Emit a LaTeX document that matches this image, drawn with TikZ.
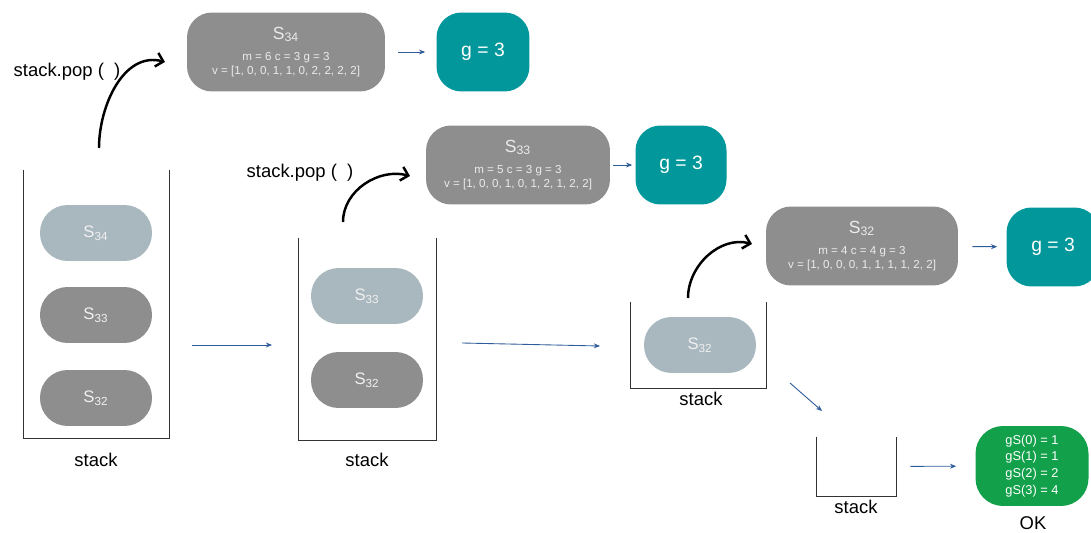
\documentclass[tikz,border=0pt]{standalone}
\usepackage{fontspec}
\setmainfont{Liberation Sans}
\usetikzlibrary{arrows.meta}
\definecolor{boxgray}{HTML}{8E8E8E}
\definecolor{popgray}{HTML}{A9B7BF}
\definecolor{tealbox}{HTML}{02979A}
\definecolor{okgreen}{HTML}{12A04B}
\definecolor{flowblue}{HTML}{2E5C99}
\definecolor{wallgray}{HTML}{333333}

\begin{document}
\begin{tikzpicture}[x=0.02cm,y=0.02cm,
  pill/.style={rectangle,rounded corners=0.55cm,minimum width=2.24cm,minimum height=1.12cm,
    fill=boxgray,text=white!94!black,font=\fontsize{9.5}{11}\selectfont},
  toppill/.style={pill,fill=popgray},
  state/.style={rectangle,rounded corners=0.5cm,minimum height=1.58cm,fill=boxgray,
    text=white!92!black,align=center,font=\fontsize{6.6}{8}\selectfont},
  gbox/.style={rectangle,rounded corners=0.5cm,minimum width=1.86cm,minimum height=1.58cm,
    fill=tealbox,text=white,font=\fontsize{11}{13}\selectfont},
  okbox/.style={rectangle,rounded corners=0.55cm,minimum width=2.26cm,minimum height=1.6cm,
    fill=okgreen,text=white,align=center,font=\fontsize{7.3}{9.6}\selectfont},
  stackbox/.style={rectangle,inner sep=0pt},
  wall/.style={wallgray,line width=0.8pt},
  flow/.style={-{Stealth[length=3.5pt,width=2.8pt]},flowblue,line width=0.5pt},
  pop/.style={-{Straight Barb[length=4pt,width=8pt]},line width=1.4pt},
  lbl/.style={font=\fontsize{10.5}{12}\selectfont}
]
\useasboundingbox (0,0) rectangle (1091,-533);
\clip (0,0) rectangle (1091,-533);

% stacks
\node[stackbox,minimum width=2.9cm,minimum height=5.36cm] (st1) at (96.5,-304) {};
\node[stackbox,minimum width=2.74cm,minimum height=4.04cm] (st2) at (367.5,-339) {};
\node[stackbox,minimum width=2.7cm,minimum height=1.72cm] (st3) at (698.5,-345) {};
\node[stackbox,minimum width=1.58cm,minimum height=1.18cm] (st4) at (856.5,-466.5) {};
\foreach \s in {st1,st2,st3,st4}
  \draw[wall] (\s.north west) -- (\s.south west) -- (\s.south east) -- (\s.north east);

\node[lbl] (lab1) at (96,-460) {stack};
\node[lbl] (lab2) at (367,-460) {stack};
\node[lbl] (lab3) at (701,-399) {stack};
\node[lbl] (lab4) at (856,-507) {stack};

% contents of the stacks
\node[toppill] (p34) at (96,-233) {S\textsubscript{34}};
\node[pill] (p33) at (96,-315) {S\textsubscript{33}};
\node[pill] (p32) at (96,-398) {S\textsubscript{32}};
\node[toppill] (q33) at (367,-296) {S\textsubscript{33}};
\node[pill] (q32) at (367,-380) {S\textsubscript{32}};
\node[toppill] (r32) at (700,-345) {S\textsubscript{32}};

% popped states
\node[state,minimum width=3.96cm] (b34) at (286,-52)
  {{\fontsize{10}{11}\selectfont S\textsubscript{34}}\\[4pt] m = 6 c = 3 g = 3\\ v = [1, 0, 0, 1, 1, 0, 2, 2, 2, 2]};
\node[state,minimum width=3.68cm] (b33) at (518,-165)
  {{\fontsize{10}{11}\selectfont S\textsubscript{33}}\\[4pt] m = 5 c = 3 g = 3\\ v = [1, 0, 0, 1, 0, 1, 2, 1, 2, 2]};
\node[state,minimum width=3.84cm] (b32) at (862,-246)
  {{\fontsize{10}{11}\selectfont S\textsubscript{32}}\\[4pt] m = 4 c = 4 g = 3\\ v = [1, 0, 0, 0, 1, 1, 1, 1, 2, 2]};

\node[gbox] (g34) at (483,-52) {g = 3};
\node[gbox,minimum width=1.82cm] (g33) at (681,-165) {g = 3};
\node[gbox] (g32) at (1053,-247) {g = 3};

\node[okbox] (ok) at (1032,-466) {gS(0) = 1\\ gS(1) = 1\\ gS(2) = 2\\ gS(3) = 4};
\node[lbl] (oklab) at (1033,-523) {OK};

\node[lbl] (pop1) at (67,-72) {stack.pop (\ \ )};
\node[lbl] (pop2) at (300,-173) {stack.pop (\ \ )};

% arrows
\draw[flow,shorten <=0.26cm,shorten >=0.22cm] (b34) -- (g34);
\draw[flow,shorten <=0.06cm,shorten >=0.06cm] (b33) -- (g33);
\draw[flow,shorten <=0.28cm,shorten >=0.18cm] (b32) -- (g32);
\draw[flow,shorten <=0.28cm,shorten >=0.38cm] (st4) -- (ok);

\coordinate (a1) at (192,-345);
\coordinate (a2) at (272,-345);
\coordinate (a3) at (462,-343);
\coordinate (a4) at (600,-346);
\coordinate (a5) at (790,-383);
\coordinate (a6) at (822,-411);
\draw[flow] (a1) -- (a2);
\draw[flow] (a3) -- (a4);
\draw[flow] (a5) -- (a6);

\coordinate (c1) at (99,-148);
\coordinate (c2) at (165,-62);
\coordinate (c3) at (343,-222);
\coordinate (c4) at (410,-176);
\coordinate (c5) at (688,-298);
\coordinate (c6) at (752,-244);
\draw[pop] (c1) to[out=90,in=165] (c2);
\draw[pop] (c3) to[out=90,in=165] (c4);
\draw[pop] (c5) to[out=90,in=165] (c6);

\end{tikzpicture}
\end{document}
